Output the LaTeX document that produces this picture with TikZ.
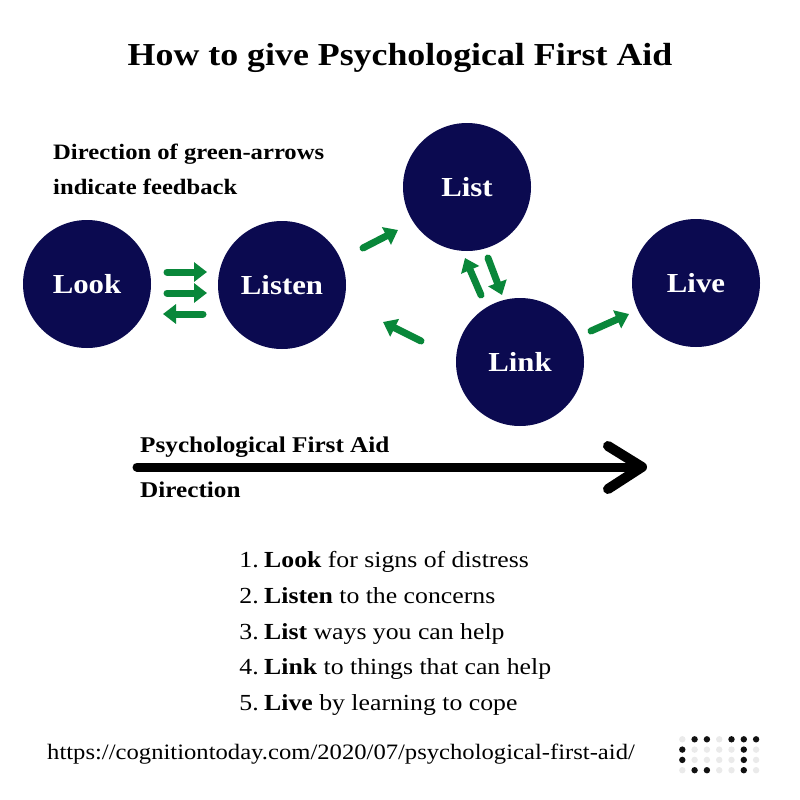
\documentclass[tikz,border=0pt]{standalone}
\usepackage{fontspec}
\setmainfont[FakeStretch=1.12]{Liberation Serif}
\usetikzlibrary{arrows.meta}
\definecolor{navy}{RGB}{11,10,80}
\definecolor{fgreen}{RGB}{9,135,58}
\definecolor{dotgrey}{RGB}{234,234,234}
\definecolor{dotblack}{RGB}{17,17,17}
\begin{document}
\begin{tikzpicture}[x=1pt,y=-1pt,
  stage/.style={circle,fill=navy,text=white,font=\bfseries\fontsize{27.5}{30}\selectfont,minimum size=128pt,inner sep=0pt},
  garrow/.style={draw=fgreen,line width=7pt,line cap=round,-{Triangle[width=19pt,length=13pt]}},
  txt/.style={inner sep=0pt,anchor=base west},
  item/.style={inner sep=0pt,anchor=base west,font=\fontsize{23}{27}\selectfont},
  num/.style={inner sep=0pt,anchor=base east,font=\fontsize{23}{27}\selectfont},
  dotb/.style={fill=dotblack},
  dotg/.style={fill=dotgrey}]
\useasboundingbox (0,0) rectangle (800,800);
\fill[white] (0,0) rectangle (800,800);

% title
\node[inner sep=0pt,anchor=base,font=\bfseries\fontsize{32}{38}\selectfont] (title) at (400,66) {How to give Psychological First Aid};

% note
\node[txt,font=\bfseries\fontsize{22}{26}\selectfont] (note1) at (53,159) {Direction of green-arrows};
\node[txt,font=\bfseries\fontsize{22}{26}\selectfont] (note2) at (53,194) {indicate feedback};

% stages
\node[stage] (look) at (87,284) {Look};
\node[stage] (listen) at (282,285) {Listen};
\node[stage] (list) at (467,187) {List};
\node[stage] (link) at (520,362) {Link};
\node[stage] (live) at (696,283) {Live};

% green arrows
\coordinate (a1s) at (167,272); \coordinate (a1e) at (207,272);
\coordinate (a2s) at (167,293); \coordinate (a2e) at (207,293);
\coordinate (a3s) at (203,314); \coordinate (a3e) at (163,314);
\coordinate (b1s) at (363,248); \coordinate (b1e) at (398,230);
\coordinate (b2s) at (421,341); \coordinate (b2e) at (383,322);
\coordinate (b3s) at (481,295); \coordinate (b3e) at (465,258);
\coordinate (b4s) at (488,258); \coordinate (b4e) at (502,295);
\coordinate (b5s) at (591,331); \coordinate (b5e) at (629,314);
\draw[garrow] (a1s) -- (a1e);
\draw[garrow] (a2s) -- (a2e);
\draw[garrow] (a3s) -- (a3e);
\draw[garrow] (b1s) -- (b1e);
\draw[garrow] (b2s) -- (b2e);
\draw[garrow] (b3s) -- (b3e);
\draw[garrow] (b4s) -- (b4e);
\draw[garrow] (b5s) -- (b5e);

% direction arrow
\coordinate (ds) at (137,467);
\coordinate (de) at (642,467);
\coordinate (dt) at (608,446);
\coordinate (db) at (608,489);
\draw[line width=9pt,line cap=round] (ds) -- (de);
\draw[line width=10pt,line cap=round,line join=round] (dt) -- (de) -- (db);
\node[txt,font=\bfseries\fontsize{22.5}{27}\selectfont] (pfa) at (140,452) {Psychological First Aid};
\node[txt,font=\bfseries\fontsize{22.5}{27}\selectfont] (dir) at (140,497) {Direction};

% list
\node[num] (n1) at (259,567) {1.};
\node[item] (i1) at (264,567) {\textbf{Look} for signs of distress};
\node[num] (n2) at (259,603) {2.};
\node[item] (i2) at (264,603) {\textbf{Listen} to the concerns};
\node[num] (n3) at (259,639) {3.};
\node[item] (i3) at (264,639) {\textbf{List} ways you can help};
\node[num] (n4) at (259,674) {4.};
\node[item] (i4) at (264,674) {\textbf{Link} to things that can help};
\node[num] (n5) at (259,710) {5.};
\node[item] (i5) at (264,710) {\textbf{Live} by learning to cope};

% url
\node[txt,font=\fontsize{22}{26}\selectfont] (url) at (47,759) {https://cognitiontoday.com/2020/07/psychological-first-aid/};

% logo dots
\foreach \c/\r/\s in {1/1/dotg,2/1/dotb,3/1/dotb,4/1/dotg,5/1/dotb,6/1/dotb,7/1/dotb,
  1/2/dotb,2/2/dotg,3/2/dotg,4/2/dotg,5/2/dotg,6/2/dotb,7/2/dotg,
  1/3/dotb,2/3/dotg,3/3/dotg,4/3/dotg,5/3/dotg,6/3/dotb,7/3/dotg,
  1/4/dotg,2/4/dotb,3/4/dotb,4/4/dotg,5/4/dotg,6/4/dotb,7/4/dotg}
  \path[\s] ({670+12.3*\c},{729+10.3*\r}) circle (3.2pt);
\end{tikzpicture}
\end{document}
